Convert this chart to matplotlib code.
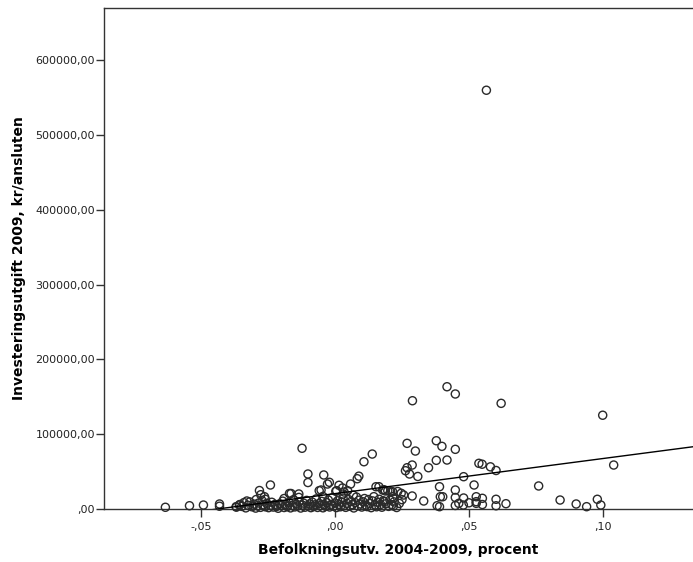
import numpy as np
import matplotlib
matplotlib.use("Agg")
import matplotlib.pyplot as plt

plt.rcParams['font.family'] = ['DejaVu Sans']

# population change 2004-2009 (share) vs investment 2009 (kr per connected)
# scattered points
x_sparse = [0.0565, 0.0418, 0.0449, 0.0289, 0.0620, 0.0999, -0.0123, -0.0101, -0.0101, -0.0042,
            -0.0021, -0.0052, -0.0164, -0.0135, 0.0108, 0.0139, 0.0089, 0.0058, 0.0028, 0.0006,
            0.0047, 0.0153, 0.0269, 0.0300, 0.0378, 0.0399, 0.0449, 0.0378, 0.0418, 0.0349,
            0.0269, 0.0288, 0.0263, 0.0278, 0.0309, 0.0480, 0.0537, 0.0549, 0.0580, 0.0601,
            0.0390, 0.0519, 0.0449, 0.0164, 0.0178, 0.0197, 0.0215, 0.0234, 0.0247, 0.0256,
            0.0215, 0.0288, 0.0331, 0.0393, 0.0402, 0.0381, 0.0390, 0.0449, 0.0449, 0.0480,
            0.0500, 0.0527, 0.0550, 0.0550, 0.0601, 0.0601, 0.0638, 0.0462, 0.0479, 0.0760,
            0.0840, 0.0900, 0.0939, 0.0979, 0.0992, 0.1040, -0.0633, -0.0543, -0.0491, -0.0431,
            -0.0431, -0.0241, -0.0282, -0.0170, -0.0263, -0.0294, -0.0329, -0.0357, -0.0369, 0.0188,
            0.0218, 0.0218, 0.0184, 0.0527, 0.0527, 0.0083, 0.0015, -0.0028, -0.0059, 0.0003,
            0.0034, 0.0183, 0.0208, -0.0277]
y_sparse = [560000, 163500, 153800, 144800, 141300, 125400, 81200, 46800, 35400, 45500,
            35700, 25400, 20700, 20100, 63200, 73500, 43900, 33400, 28100, 24500,
            24500, 29800, 87800, 77500, 91300, 83800, 79800, 65100, 65500, 55200,
            55200, 58800, 51200, 46800, 43500, 43200, 61100, 59900, 56400, 51500,
            29800, 32100, 25400, 29800, 25400, 24500, 23100, 23400, 21000, 18700,
            16400, 17400, 10700, 16400, 16400, 4400, 3100, 15400, 4700, 14700,
            8300, 9800, 14300, 6000, 13000, 4300, 7100, 7600, 5300, 30800,
            12000, 6700, 3100, 13000, 5300, 58800, 2300, 4400, 5300, 6700,
            3700, 32100, 24700, 20700, 16400, 12700, 10700, 5300, 3100, 24100,
            14300, 4000, 9800, 16400, 7600, 40500, 31700, 33400, 24500, 23700,
            22700, 25800, 22700, 19100]

# dense band close to zero
x_band = [-0.0368, -0.0355, -0.0348, -0.0340, -0.0333, -0.0325, -0.0318, -0.0310, -0.0302, -0.0296,
          -0.0290, -0.0285, -0.0278, -0.0272, -0.0266, -0.0260, -0.0255, -0.0248, -0.0242, -0.0236,
          -0.0230, -0.0224, -0.0218, -0.0212, -0.0206, -0.0200, -0.0195, -0.0190, -0.0184, -0.0178,
          -0.0172, -0.0166, -0.0160, -0.0155, -0.0150, -0.0145, -0.0140, -0.0134, -0.0128, -0.0122,
          -0.0117, -0.0112, -0.0106, -0.0100, -0.0095, -0.0090, -0.0085, -0.0080, -0.0075, -0.0070,
          -0.0065, -0.0060, -0.0055, -0.0050, -0.0045, -0.0040, -0.0035, -0.0030, -0.0025, -0.0020,
          -0.0015, -0.0010, -0.0005, 0.0000, 0.0005, 0.0010, 0.0015, 0.0020, 0.0025, 0.0030,
          0.0035, 0.0040, 0.0045, 0.0050, 0.0055, 0.0060, 0.0065, 0.0070, 0.0075, 0.0080,
          0.0085, 0.0090, 0.0095, 0.0100, 0.0105, 0.0110, 0.0115, 0.0120, 0.0125, 0.0130,
          0.0135, 0.0140, 0.0145, 0.0150, 0.0155, 0.0160, 0.0165, 0.0170, 0.0175, 0.0180,
          0.0190, 0.0200, 0.0205, 0.0212, 0.0220, 0.0230, 0.0240, 0.0250, -0.0135, -0.0190,
          -0.0260, 0.0068, 0.0030, -0.0045]
y_band = [2500, 6000, 3500, 8500, 1500, 5000, 9500, 3000, 6500, 1200,
          4200, 8000, 2200, 11000, 5500, 3000, 7500, 1800, 4800, 9000,
          2600, 6200, 3400, 1000, 7000, 4500, 10500, 2000, 5800, 3200,
          8800, 1500, 4800, 12500, 2800, 6600, 3800, 9600, 1300, 5200,
          7800, 2400, 11500, 4000, 6800, 1800, 9200, 3300, 5600, 13500,
          2100, 7200, 4300, 10200, 1600, 6000, 3600, 8400, 12000, 2700,
          5400, 15000, 4000, 8000, 1900, 11000, 6200, 3000, 9000, 14500,
          4600, 2200, 7600, 12800, 3800, 10000, 5800, 1400, 8600, 16000,
          4200, 11800, 6800, 2600, 9600, 14000, 5000, 3200, 12600, 7400,
          1800, 10800, 16500, 5400, 3000, 9000, 13000, 6000, 2400, 11000,
          7000, 3500, 12000, 5500, 9500, 2000, 7500, 12500, 15500, 14000,
          13000, 18500, 20000, 16800]

# linear fit line
fit_intercept = 20600
fit_slope = 469000

x_ticks = [-0.05, 0.0, 0.05, 0.10]
x_ticklabels = ['-,05', ',00', ',05', ',10']
y_ticks = [0, 100000, 200000, 300000, 400000, 500000, 600000]
y_ticklabels = [',00', '100000,00', '200000,00', '300000,00', '400000,00', '500000,00', '600000,00']

xs = np.array(x_sparse + x_band)
ys = np.array(y_sparse + y_band)

fig = plt.figure(figsize=(6.93, 5.62), dpi=100)
ax = fig.add_axes([0.1501, 0.0943, 0.8499, 0.8915])

xmin, xmax = -0.0862, 0.1336
ax.scatter(xs, ys, s=34, facecolors='none', edgecolors='#2a2a2a', linewidths=1.0,
           clip_on=False, zorder=3)

xl = np.array([xmin, xmax])
ax.plot(xl, fit_intercept + fit_slope * xl, color='black', lw=1.0, zorder=4)

ax.set_xlim(xmin, xmax)
ax.set_ylim(0, 670000)
ax.set_xticks(x_ticks)
ax.set_xticklabels(x_ticklabels)
ax.set_yticks(y_ticks)
ax.set_yticklabels(y_ticklabels)
ax.tick_params(axis='both', direction='out', length=6, width=1, color='#333333',
               labelsize=8, labelcolor='#222222')
ax.tick_params(axis='y', pad=0.5)
ax.tick_params(axis='x', pad=3.5)

for s in ['left', 'top', 'bottom']:
    ax.spines[s].set_color('#333333')
    ax.spines[s].set_linewidth(1.0)
ax.spines['right'].set_visible(False)

ax.set_xlabel('Befolkningsutv. 2004-2009, procent', fontsize=10, fontweight='bold', labelpad=8)
ax.set_ylabel('Investeringsutgift 2009, kr/ansluten', fontsize=10, fontweight='bold', labelpad=7)

fig.savefig('out.png', dpi=100)
